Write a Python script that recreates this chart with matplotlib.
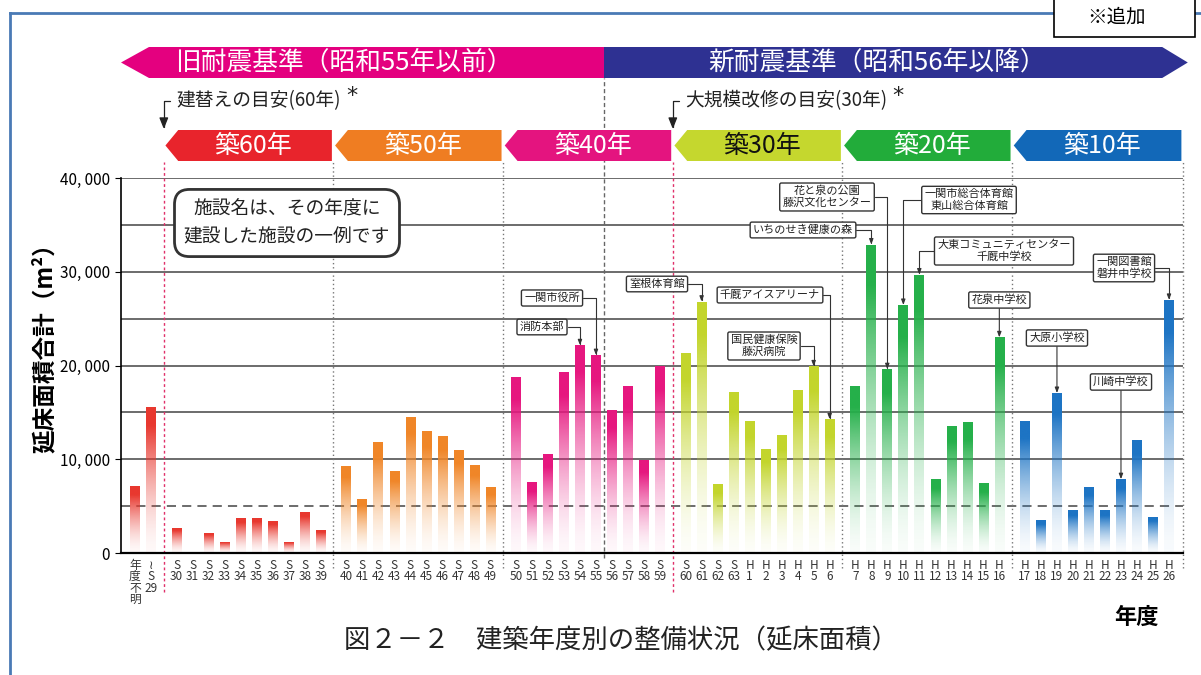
import numpy as np
import matplotlib.pyplot as plt
from matplotlib.patches import Polygon, Rectangle
from matplotlib.lines import Line2D
from matplotlib.colors import to_rgb

plt.rcParams['font.family'] = ['Noto Sans CJK JP', 'DejaVu Sans']

# 年度
years = ['年度不明', '～S29'] + ['S%d' % n for n in range(30, 64)] + ['H%d' % n for n in range(1, 27)]

# 延床面積合計 (m2)
area = [7100, 15600,
        2700, 0, 2150, 1200, 3700, 3750, 3450, 1200, 4400, 2500,
        9250, 5800, 11800, 8800, 14550, 13000, 12500, 10950, 9400, 7050,
        18750, 7530, 10550, 19300, 22150, 21100, 15300, 17800, 9900, 19950,
        21300, 26800, 7350, 17200, 14100, 11100, 12600, 17350, 19900, 14250,
        17850, 32900, 19600, 26450, 29700, 7870, 13580, 13970, 7450, 23000,
        14080, 3480, 17060, 4580, 6990, 4580, 7870, 12020, 3870, 26990]

group_sizes = [2, 10, 10, 10, 10, 10, 10]
group_colors = ['#e8382f', '#e8382f', '#f08628', '#e6177f', '#c3d52c', '#25b04a', '#1d74c4']

banner_labels = ['築60年', '築50年', '築40年', '築30年', '築20年', '築10年']
banner_colors = ['#e8242c', '#ef7d22', '#e4147f', '#c5d72e', '#22ac3a', '#1268b8']
banner_text_colors = ['white', 'white', 'white', '#111111', 'white', 'white']

# 施設名の注記 (施設名, 年度, 箱の中心 px, 線の出る側)
notes = [
    ('消防本部', 'S54', 542, 327, 'right'),
    ('一関市役所', 'S55', 552, 298, 'right'),
    ('室根体育館', 'S61', 657, 284, 'right'),
    ('千厩アイスアリーナ', 'H6', 770, 295, 'right'),
    ('国民健康保険\n藤沢病院', 'H5', 764, 346, 'right'),
    ('いちのせき健康の森', 'H8', 803, 230, 'right'),
    ('花と泉の公園\n藤沢文化センター', 'H9', 827, 197, 'right'),
    ('一関市総合体育館\n東山総合体育館', 'H10', 969, 200, 'left'),
    ('大東コミュニティセンター\n千厩中学校', 'H11', 1004, 251, 'left'),
    ('花泉中学校', 'H16', None, 300, 'below'),
    ('大原小学校', 'H19', None, 338, 'below'),
    ('川崎中学校', 'H23', None, 382, 'below'),
    ('一関図書館\n磐井中学校', 'H26', 1124, 268, 'right'),
]

W, H = 1201, 675
AX_L, AX_R, AX_B, AX_T = 121, 1183, 553, 178
YMAX = 40000

fig = plt.figure(figsize=(W / 100, H / 100), dpi=100)
ax = fig.add_axes([AX_L / W, 1 - AX_B / H, (AX_R - AX_L) / W, (AX_B - AX_T) / H])

gidx = np.repeat(np.arange(len(group_sizes)), group_sizes)
x = np.arange(len(years)) + 0.6 * gidx
xl, xr = x[0] - 0.875, x[-1] + 0.875


def px2x(px):
    return xl + (px - AX_L) / (AX_R - AX_L) * (xr - xl)


def py2y(py):
    return (AX_B - py) / (AX_B - AX_T) * YMAX


# 棒 (グラデーション)
bars = ax.bar(x, area, width=0.6, color='none', edgecolor='none', zorder=3)
t = np.linspace(0, 1, 200)
alpha = np.clip(1.15 * t, 0, 1) ** 1.6 * 0.97 + 0.03
for patch, g in zip(bars, gidx):
    h = patch.get_height()
    if h <= 0:
        continue
    rgba = np.zeros((200, 1, 4))
    rgba[..., :3] = to_rgb(group_colors[g])
    rgba[:, 0, 3] = alpha
    x0 = patch.get_x()
    im = ax.imshow(rgba, extent=(x0, x0 + patch.get_width(), 0, h), origin='lower',
                   aspect='auto', interpolation='bilinear', zorder=3)
    im.set_clip_path(patch)

for v in range(5000, YMAX + 1, 5000):
    ax.axhline(v, color='#444444', lw=1.1, ls=(0, (6, 4)) if v == 5000 else '-', zorder=1)

ax.set_xlim(xl, xr)
ax.set_ylim(0, YMAX)
yt = [0, 10000, 20000, 30000, 40000]
ax.set_yticks(yt, labels=[f'{v:,}'.replace(',', ', ') for v in yt])


def tick_text(s):
    if s == '年度不明':
        return '\n'.join(s)
    if s.startswith('～'):
        return '≀\nS\n' + s[2:]
    return s[0] + '\n' + s[1:]


ax.set_xticks(x, labels=[tick_text(s) for s in years])
for lbl in ax.get_xticklabels():
    lbl.set_linespacing(0.85)
    lbl.set_color('#333333')
ax.tick_params(axis='x', length=0, labelsize=8.5, pad=4)
ax.tick_params(axis='y', length=4, labelsize=11, pad=4)
for s in ['top', 'right']:
    ax.spines[s].set_visible(False)
ax.spines['left'].set_linewidth(1.2)
ax.spines['bottom'].set_linewidth(1.6)
ax.spines['bottom'].set_zorder(5)

# 区切り線
starts = np.cumsum(group_sizes)[:-1]
edges = (x[starts - 1] + x[starts]) / 2
ax.vlines(edges[[0, 3]], py2y(592), py2y(162), colors='#e0306a', linestyles=(0, (2, 2)),
          lw=1, clip_on=False, zorder=2)
ax.vlines(list(edges[[1, 2, 4, 5]]) + [xr], py2y(568), py2y(162), colors='#777777',
          linestyles=(0, (1, 2)), lw=1, clip_on=False, zorder=2)
boundary = (x[years.index('S55')] + x[years.index('S56')]) / 2
ax.vlines(boundary, py2y(558), py2y(78), colors='#666666', linestyles=(0, (3, 2)),
          lw=1, clip_on=False, zorder=2)

# 築年数の帯
yb, ytp = py2y(161), py2y(130)
ym = (yb + ytp) / 2
ends = list(edges[1:]) + [xr]
for i, lab in enumerate(banner_labels):
    x0 = edges[i] + 0.1
    x1 = ends[i] - 0.1
    ax.add_patch(Polygon([(x0, ym), (x0 + 0.8, ytp), (x1, ytp), (x1, yb), (x0 + 0.8, yb)],
                         closed=True, fc=banner_colors[i], ec='none', clip_on=False, zorder=4))
    ax.text((x0 + x1) / 2 + 0.3, ym, lab, color=banner_text_colors[i], fontsize=18,
            ha='center', va='center', zorder=5)

# 耐震基準の帯
yb2, yt2 = py2y(78), py2y(47)
ym2 = (yb2 + yt2) / 2
ax.add_patch(Polygon([(xl, ym2), (xl + 1.75, yt2), (boundary, yt2), (boundary, yb2), (xl + 1.75, yb2)],
                     closed=True, fc='#e4007f', ec='none', clip_on=False, zorder=4))
ax.add_patch(Polygon([(boundary, yt2), (xr - 1.3, yt2), (xr + 0.3, ym2), (xr - 1.3, yb2), (boundary, yb2)],
                     closed=True, fc='#2e3192', ec='none', clip_on=False, zorder=4))
ax.text((xl + boundary) / 2 - 1.2, ym2, '旧耐震基準（昭和55年以前）', color='white', fontsize=18.5,
        ha='center', va='center', zorder=5)
ax.text((boundary + xr) / 2 - 1.0, ym2, '新耐震基準（昭和56年以降）', color='white', fontsize=18.5,
        ha='center', va='center', zorder=5)

# 目安の矢印
guide_arrow = dict(arrowstyle='-|>,head_length=0.5,head_width=0.2',
                   connectionstyle='angle,angleA=0,angleB=90,rad=0', relpos=(0, 0.5),
                   shrinkA=2, shrinkB=0, color='#222222', lw=0.9)
for txt, ex, tx in [('建替えの目安(60年)', edges[0], 176), ('大規模改修の目安(30年)', edges[3], 685)]:
    tg = ax.annotate(txt, xy=(ex, py2y(129)), xytext=(px2x(tx), py2y(101)), ha='left', va='center',
                     fontsize=13.5, color='#222222', arrowprops=guide_arrow, annotation_clip=False)
    ax.annotate('*', xy=(1, 1), xycoords=tg, xytext=(4, 3), textcoords='offset points',
                ha='left', va='top', fontsize=16, family='DejaVu Sans', color='#222222')

# 注記ボックス
ax.text(px2x(287), py2y(223), '施設名は、その年度に\n建設した施設の一例です', ha='center', va='center',
        fontsize=13.5, color='#222222', linespacing=1.4, zorder=6,
        bbox=dict(boxstyle='round,pad=0.5,rounding_size=0.8', fc='white', ec='#333333', lw=2))

for txt, yr, cx, cy, side in notes:
    i = years.index(yr)
    bx, by = x[i], area[i]
    if side == 'below':
        xt, rel, cs = bx, (0.5, 0), 'arc3'
    else:
        xt = px2x(cx)
        rel = (1, 0.5) if side == 'right' else (0, 0.5)
        cs = 'angle,angleA=0,angleB=90,rad=0'
    ax.annotate(txt, xy=(bx, by), xytext=(xt, py2y(cy)), ha='center', va='center', ma='center',
                fontsize=8, color='#222222', zorder=6, annotation_clip=False, linespacing=1.15,
                bbox=dict(boxstyle='round,pad=0.25,rounding_size=0.15', fc='white', ec='#333333', lw=1),
                arrowprops=dict(arrowstyle='-|>,head_length=0.4,head_width=0.15', color='#333333',
                                lw=0.8, connectionstyle=cs, relpos=rel, shrinkA=0, shrinkB=0))

# 軸ラベル・タイトル
fig.text(45 / W, 1 - 342 / H, '延床面積合計（m²）', rotation=90, fontsize=17, fontweight='bold',
         ha='center', va='center')
fig.text(1136 / W, 1 - 617 / H, '年度', fontsize=16, fontweight='bold', ha='center', va='center')
fig.text(621 / W, 1 - 641 / H, '図２－２　建築年度別の整備状況（延床面積）', fontsize=19,
         ha='center', va='center', color='#222222')

# 枠
fig.add_artist(Line2D([10 / W, 10 / W], [0, 1 - 13 / H], transform=fig.transFigure, color='#4a7ab5', lw=2))
fig.add_artist(Line2D([10 / W, 1], [1 - 13 / H, 1 - 13 / H], transform=fig.transFigure, color='#4a7ab5', lw=2))
fig.add_artist(Rectangle((1054 / W, 1 - 37 / H), (1195 - 1054) / W, 45 / H, transform=fig.transFigure,
                         fc='white', ec='black', lw=1.2, zorder=5))
fig.text(1117 / W, 1 - 17 / H, '※追加', fontsize=14, ha='center', va='center', zorder=6)

fig.savefig('out.png', dpi=100)
